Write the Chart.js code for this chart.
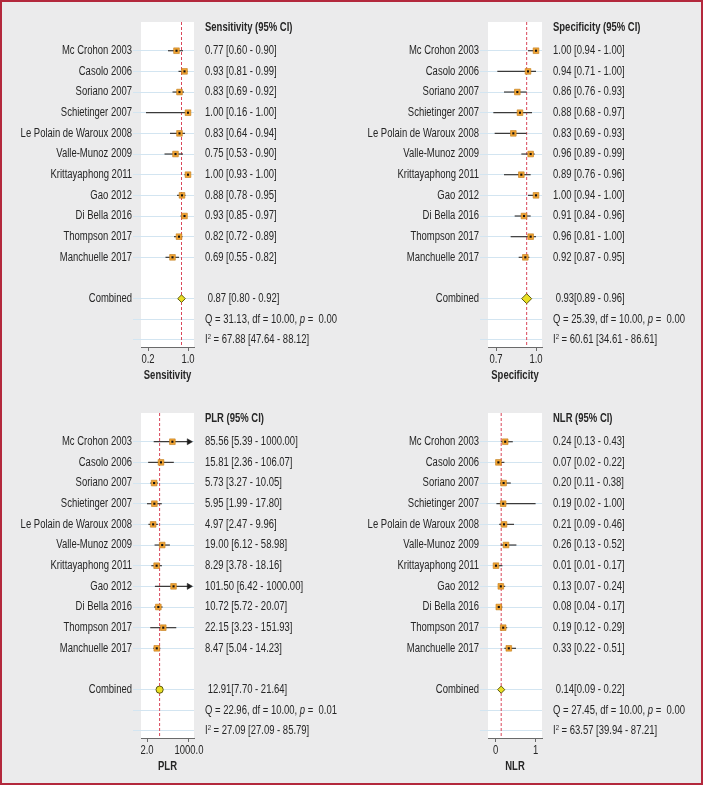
<!DOCTYPE html>
<html><head><meta charset="utf-8">
<script src="https://cdn.jsdelivr.net/npm/chart.js@4.4.1/dist/chart.umd.min.js"></script>
<style>
html,body{margin:0;padding:0;background:#fff;}
#frame{position:absolute;left:0;top:0;width:703px;height:785px;box-sizing:border-box;border:2px solid #b3283c;background:#ebebec;}
canvas{position:absolute;}
</style></head><body>
<div id="frame"></div>
<canvas id="c1" width="350" height="391" style="left:0;top:0"></canvas>
<canvas id="c2" width="353" height="391" style="left:350px;top:0"></canvas>
<canvas id="c3" width="350" height="391" style="left:0;top:391px"></canvas>
<canvas id="c4" width="353" height="391" style="left:350px;top:391px"></canvas>
<script>
// ---------- DATA ----------
const studies = ['Mc Crohon 2003','Casolo 2006','Soriano 2007','Schietinger 2007','Le Polain de Waroux 2008','Valle-Munoz 2009','Krittayaphong 2011','Gao 2012','Di Bella 2016','Thompson 2017','Manchuelle 2017'];
const rowLabels = [...studies, '', 'Combined', '', ''];

const sensEst  = [0.77,0.93,0.83,1.00,0.83,0.75,1.00,0.88,0.93,0.82,0.69];
const sensLow  = [0.60,0.81,0.69,0.16,0.64,0.53,0.93,0.78,0.85,0.72,0.55];
const sensHigh = [0.90,0.99,0.92,1.00,0.94,0.90,1.00,0.95,0.97,0.89,0.82];
const sensPooled = [0.87,0.80,0.92];
const sensQ  = [31.13,10.00,0.00];
const sensI2 = [67.88,47.64,88.12];

const specEst  = [1.00,0.94,0.86,0.88,0.83,0.96,0.89,1.00,0.91,0.96,0.92];
const specLow  = [0.94,0.71,0.76,0.68,0.69,0.89,0.76,0.94,0.84,0.81,0.87];
const specHigh = [1.00,1.00,0.93,0.97,0.93,0.99,0.96,1.00,0.96,1.00,0.95];
const specPooled = [0.93,0.89,0.96];
const specQ  = [25.39,10.00,0.00];
const specI2 = [60.61,34.61,86.61];

const plrEst  = [85.56,15.81,5.73,5.95,4.97,19.00,8.29,101.50,10.72,22.15,8.47];
const plrLow  = [5.39,2.36,3.27,1.99,2.47,6.12,3.78,6.42,5.72,3.23,5.04];
const plrHigh = [1000.00,106.07,10.05,17.80,9.96,58.98,18.16,1000.00,20.07,151.93,14.23];
const plrPooled = [12.91,7.70,21.64];
const plrQ  = [22.96,10.00,0.01];
const plrI2 = [27.09,27.09,85.79];

const nlrEst  = [0.24,0.07,0.20,0.19,0.21,0.26,0.01,0.13,0.08,0.19,0.33];
const nlrLow  = [0.13,0.02,0.11,0.02,0.09,0.13,0.01,0.07,0.04,0.12,0.22];
const nlrHigh = [0.43,0.22,0.38,1.00,0.46,0.52,0.17,0.24,0.17,0.29,0.51];
const nlrPooled = [0.14,0.09,0.22];
const nlrQ  = [27.45,10.00,0.00];
const nlrI2 = [63.57,39.94,87.21];

const sensTicks = [0.2,1.0], sensTickLabels = ['0.2','1.0'];
const specTicks = [0.7,1.0], specTickLabels = ['0.7','1.0'];
const plrTicks  = [2,1000],  plrTickLabels  = ['2.0','1000.0'];
const nlrTicks  = [0,1],     nlrTickLabels  = ['0','1'];

// ---------- RENDER ----------
const FONT = '"Liberation Sans",Arial,sans-serif';
const SX = 0.79;           // horizontal condensing of the text
const TXT = '#262626';
const f2 = v => v.toFixed(2);
const ROW_MIN = -1.39, ROW_MAX = 14.34;
const POOLED_ROW = 12, Q_ROW = 13, I2_ROW = 14, BLANK_ROW = 11;

function txt(ctx, s, x, y, align, font) {
  ctx.save();
  ctx.font = font;
  ctx.translate(x, y);
  ctx.scale(SX, 1);
  ctx.textAlign = align;
  ctx.textBaseline = 'middle';
  ctx.fillStyle = TXT;
  ctx.fillText(s, 0, 0);
  const w = ctx.measureText(s).width * SX;
  ctx.restore();
  return w;
}

const forestPlugin = {
  id: 'forest',
  beforeDraw(chart) {
    const {ctx, chartArea: a} = chart;
    ctx.save(); ctx.fillStyle = '#fff';
    ctx.fillRect(a.left, a.top, a.right - a.left, a.bottom - a.top);
    ctx.restore();
  },
  afterDraw(chart, args, o) {
    const {ctx, chartArea: a} = chart;
    const ys = chart.scales.y, xs = chart.scales.x;
    const R = '12px ' + FONT, B = 'bold 12px ' + FONT, I = 'italic 12px ' + FONT;
    // row labels
    o.rows.forEach((s, i) => { if (s) txt(ctx, s, a.left - 9, ys.getPixelForValue(i), 'right', R); });
    // x tick labels and title
    o.tickVals.forEach((v, i) => txt(ctx, o.tickLabels[i], xs.getPixelForValue(v), a.bottom + 13, 'center', R));
    txt(ctx, o.axisTitle, (a.left + a.right) / 2, a.bottom + 29, 'center', B);
    // right column
    const x0 = a.right + 11;
    txt(ctx, o.header, x0, a.top + 6, 'left', B);
    o.est.forEach((v, i) => {
      txt(ctx, f2(v) + ' [' + f2(o.low[i]) + ' - ' + f2(o.high[i]) + ']', x0, ys.getPixelForValue(i), 'left', R);
    });
    const p = o.pooled;
    txt(ctx, ' ' + f2(p[0]) + o.pooledSep + '[' + f2(p[1]) + ' - ' + f2(p[2]) + ']', x0, ys.getPixelForValue(POOLED_ROW), 'left', R);
    let x = x0, y = ys.getPixelForValue(Q_ROW);
    x += txt(ctx, 'Q = ' + f2(o.q[0]) + ', df = ' + f2(o.q[1]) + ', ', x, y, 'left', R);
    x += txt(ctx, 'p', x, y, 'left', I);
    txt(ctx, ' =  ' + f2(o.q[2]), x, y, 'left', R);
    x = x0; y = ys.getPixelForValue(I2_ROW);
    x += txt(ctx, 'I', x, y, 'left', R);
    x += txt(ctx, '2', x, y - 3.5, 'left', '7.5px ' + FONT);
    txt(ctx, ' = ' + f2(o.i2[0]) + ' [' + f2(o.i2[1]) + ' - ' + f2(o.i2[2]) + ']', x, y, 'left', R);
  }
};

function makeForest(id, c) {
  const datasets = [];
  datasets.push({
    data: [{x: c.pooled[0], y: ROW_MIN}, {x: c.pooled[0], y: ROW_MAX}],
    showLine: true, borderColor: '#d9475a', borderWidth: 1, borderDash: [3, 2],
    pointRadius: 0, order: 10
  });
  c.est.forEach((v, i) => {
    datasets.push({
      data: [{x: c.low[i], y: i}, {x: c.high[i], y: i}],
      showLine: true, borderColor: '#3a3a3a', borderWidth: 1.2, pointRadius: 0, order: 9
    });
  });
  if (c.arrowAt !== undefined) {
    const pts = [];
    c.high.forEach((h, i) => { if (h >= c.arrowAt) pts.push({x: h, y: i}); });
    datasets.push({data: pts, pointStyle: 'triangle', rotation: 90, pointRadius: 3.5,
      backgroundColor: '#1e1e1e', borderColor: '#1e1e1e', borderWidth: 0.5, order: 8});
  }
  datasets.push({
    data: c.est.map((v, i) => ({x: v, y: i})),
    pointStyle: 'rect', pointRadius: 4, backgroundColor: '#f2a534', borderColor: '#c07a1a', borderWidth: 0.6, order: 7
  });
  datasets.push({
    data: c.est.map((v, i) => ({x: v, y: i})),
    pointStyle: 'rect', pointRadius: 1.5, backgroundColor: '#111', borderWidth: 0, order: 6
  });
  datasets.push({
    data: [{x: c.pooled[0], y: POOLED_ROW}],
    pointStyle: c.pooledStyle, pointRadius: c.pooledRadius, backgroundColor: '#eadf22',
    borderColor: '#5c5a14', borderWidth: 1, order: 5
  });

  new Chart(document.getElementById(id), {
    type: 'scatter',
    data: {datasets},
    plugins: [forestPlugin],
    options: {
      responsive: false, animation: false, devicePixelRatio: 1,
      layout: {padding: {left: 0, top: 22, right: c.padRight, bottom: 0}},
      plugins: {
        legend: {display: false}, tooltip: {enabled: false},
        forest: {header: c.header, est: c.est, low: c.low, high: c.high, pooled: c.pooled,
                 pooledSep: c.pooledSep, q: c.q, i2: c.i2, rows: rowLabels,
                 tickVals: c.ticks, tickLabels: c.tickLabels, axisTitle: c.axisTitle}
      },
      scales: {
        x: {
          type: c.xType, position: 'bottom', min: c.xMin, max: c.xMax,
          afterBuildTicks: s => { s.ticks = c.ticks.map(v => ({value: v})); },
          afterFit: s => { s.height = 44; },
          ticks: {display: false, autoSkip: false},
          grid: {drawOnChartArea: false, drawTicks: true, tickLength: 4, color: '#6a6a6a'},
          border: {display: true, color: '#6a6a6a', width: 1},
          title: {display: false, text: c.axisTitle}
        },
        y: {
          type: 'linear', position: 'left', reverse: true, min: ROW_MIN, max: ROW_MAX,
          afterBuildTicks: s => { s.ticks = rowLabels.map((_, i) => ({value: i})); },
          afterFit: s => { s.width = c.axisWidth; },
          ticks: {display: false, autoSkip: false},
          grid: {
            color: g => (g.tick && g.tick.value === BLANK_ROW) ? 'rgba(0,0,0,0)' : '#d3e5f1',
            tickColor: g => (g.tick && g.tick.value === BLANK_ROW) ? 'rgba(0,0,0,0)' : '#d3e5f1',
            drawTicks: true, tickLength: 8, lineWidth: 1
          },
          border: {display: false}
        }
      }
    }
  });
}

makeForest('c1', {est: sensEst, low: sensLow, high: sensHigh, pooled: sensPooled, q: sensQ, i2: sensI2,
  header: 'Sensitivity (95% CI)', axisTitle: 'Sensitivity', pooledSep: ' ',
  xType: 'linear', xMin: 0.06, xMax: 1.12, ticks: sensTicks, tickLabels: sensTickLabels,
  axisWidth: 141, padRight: 156, pooledStyle: 'rectRot', pooledRadius: 3.8});
makeForest('c2', {est: specEst, low: specLow, high: specHigh, pooled: specPooled, q: specQ, i2: specI2,
  header: 'Specificity (95% CI)', axisTitle: 'Specificity', pooledSep: '',
  xType: 'linear', xMin: 0.64, xMax: 1.045, ticks: specTicks, tickLabels: specTickLabels,
  axisWidth: 138, padRight: 161, pooledStyle: 'rectRot', pooledRadius: 5});
makeForest('c3', {est: plrEst, low: plrLow, high: plrHigh, pooled: plrPooled, q: plrQ, i2: plrI2,
  header: 'PLR (95% CI)', axisTitle: 'PLR', pooledSep: '',
  xType: 'logarithmic', xMin: 0.822, xMax: 2096, ticks: plrTicks, tickLabels: plrTickLabels,
  axisWidth: 141, padRight: 156, pooledStyle: 'circle', pooledRadius: 3.6, arrowAt: 1000});
makeForest('c4', {est: nlrEst, low: nlrLow, high: nlrHigh, pooled: nlrPooled, q: nlrQ, i2: nlrI2,
  header: 'NLR (95% CI)', axisTitle: 'NLR', pooledSep: '',
  xType: 'linear', xMin: -0.19, xMax: 1.16, ticks: nlrTicks, tickLabels: nlrTickLabels,
  axisWidth: 138, padRight: 161, pooledStyle: 'rectRot', pooledRadius: 3.6});
</script>
</body></html>
